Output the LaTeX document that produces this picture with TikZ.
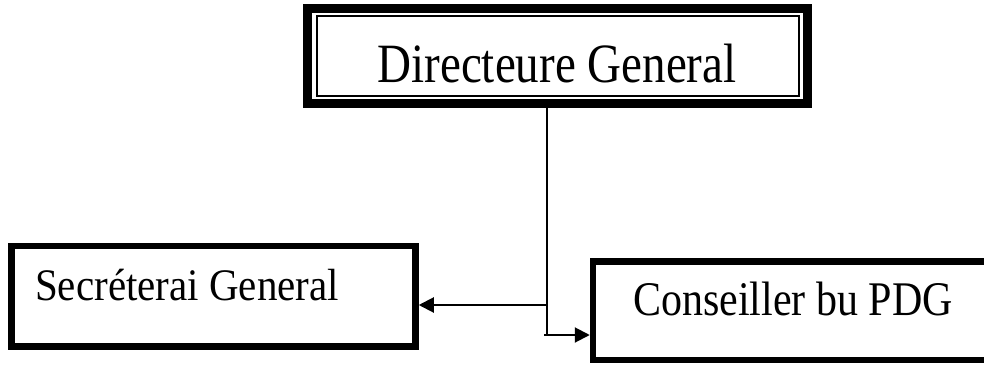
\documentclass[tikz,border=0pt]{standalone}
\usepackage{fontspec}
\setmainfont{Liberation Serif}
\usetikzlibrary{arrows.meta}
\tikzset{
  frame/.style={draw=black, fill=white, inner sep=0pt, outer sep=0pt},
  caption/.style={inner sep=0pt, text=black},
  link/.style={draw=black, line width=2pt},
  linkarrow/.style={link, -{Triangle[length=15pt,width=15pt]}}
}
\begin{document}
\begin{tikzpicture}[x=1pt,y=1pt]
\useasboundingbox (0,0) rectangle (984,365);
\clip (0,0) rectangle (984,365);
\fill[white] (0,0) rectangle (984,365);

% head office box with a double frame
\node[frame, line width=9pt, minimum width=500pt, minimum height=95pt] (dg) at (557.5,309) {};
\draw[line width=2pt] ([shift={(9pt,-7.5pt)}]dg.north west) rectangle ([shift={(-9pt,7.5pt)}]dg.south east);
\node[caption, anchor=base] (dgtext) at (557,283) {\fontsize{47}{50}\selectfont\scalebox{1}[1.18]{Directeure General}};

% secretary general
\node[frame, line width=6.5pt, minimum width=404pt, minimum height=100.5pt] (sg) at (213.5,68.75) {};
\node[caption, anchor=base west] (sgtext) at (35,65) {\fontsize{41}{44}\selectfont\scalebox{1}[1.1]{Secréterai General}};

% adviser box, running off the right edge
\node[frame, line width=6.5pt, minimum width=397pt, minimum height=98.5pt] (cb) at (791.5,54.25) {};
\node[caption, anchor=base west] (cbtext) at (633,50) {\fontsize{42}{45}\selectfont\scalebox{1}[1.15]{Conseiller bu PDG}};

% connectors
\coordinate (bend) at (547,30);
\coordinate (tee) at (547,60);
\coordinate (start) at (544,30);
\draw[link] ([yshift=-4.5pt]dg.south -| bend) -- (bend);
\draw[linkarrow] (tee) -- ([xshift=3.25pt]sg.east |- tee);
\draw[linkarrow] (start) -- ([xshift=-3.25pt]cb.west |- start);
\end{tikzpicture}
\end{document}
